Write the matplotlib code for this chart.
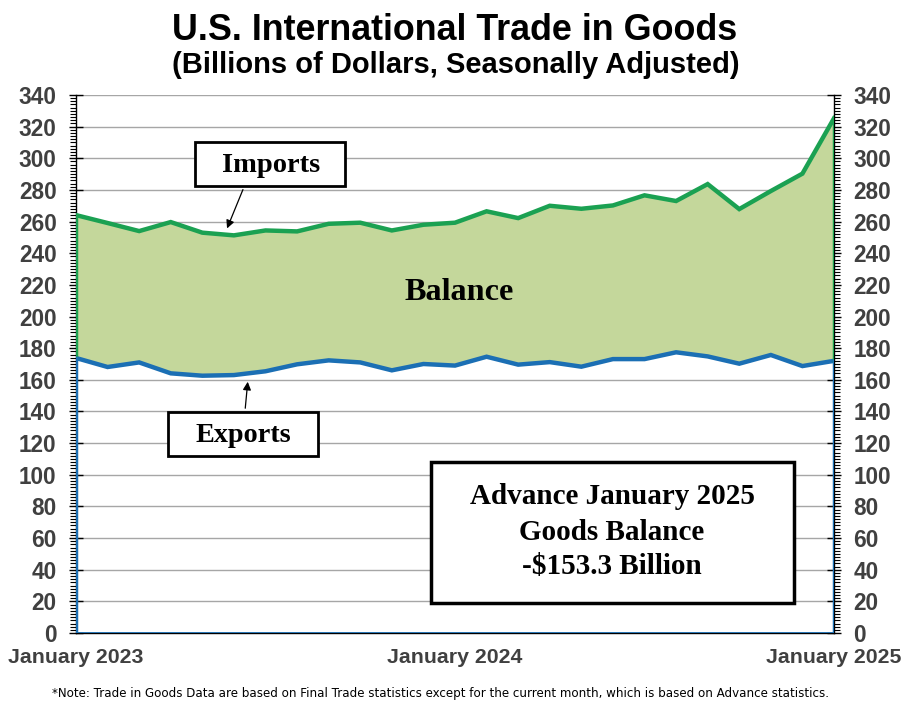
import matplotlib
matplotlib.use("Agg")
import matplotlib.pyplot as plt
from matplotlib.ticker import MultipleLocator
from matplotlib.patches import Rectangle
import numpy as np

months = list(range(25))
xtick_pos = [0, 12, 24]
xtick_labels = ["January 2023", "January 2024", "January 2025"]

imports = [264.1, 259.1, 254.0, 259.7, 253.0, 251.3, 254.4, 253.8, 258.6, 259.3,
           254.4, 258.0, 259.3, 266.5, 262.2, 270.0, 268.1, 270.2, 276.6, 273.0,
           283.7, 267.9, 279.3, 290.3, 325.3]
exports = [173.8, 168.1, 171.0, 164.1, 162.6, 163.0, 165.4, 169.8, 172.3, 171.0,
           166.0, 170.0, 169.0, 174.6, 169.6, 171.2, 168.3, 173.1, 173.1, 177.4,
           174.8, 170.2, 175.7, 168.7, 172.0]

W, H = 910, 709
fig = plt.figure(figsize=(W / 100, H / 100), dpi=100)
ax = fig.add_axes([76 / W, 1 - 633 / H, (834 - 76) / W, (633 - 95) / H])

green = "#1ba152"
fill = "#c4d79b"
blue = "#1b6fb4"
gray_txt = "#404040"

x = np.array(months)
imp = np.array(imports)
exp_ = np.array(exports)

ax.fill_between(x, exp_, imp, color=fill, lw=0, zorder=2)
ax.plot(x, imp, color=green, lw=3.2, zorder=4, solid_joinstyle="miter")
ax.plot(x, exp_, color=blue, lw=3.2, zorder=4, solid_joinstyle="miter")
# area edges
ax.plot([x[0], x[0]], [exp_[0], imp[0]], color=green, lw=2.5, zorder=4)
ax.plot([x[-1], x[-1]], [exp_[-1], imp[-1]], color=green, lw=2.5, zorder=4)
ax.plot([x[0], x[0]], [0, exp_[0]], color=blue, lw=2.5, zorder=4)
ax.plot([x[-1], x[-1]], [0, exp_[-1]], color=blue, lw=2.5, zorder=4)
ax.plot([x[0], x[-1]], [0, 0], color=blue, lw=2.0, zorder=4)

ax.set_xlim(0, 24)
ax.set_ylim(0, 340)
ax.yaxis.set_major_locator(MultipleLocator(20))
ax.yaxis.set_minor_locator(MultipleLocator(2))
ax.grid(axis="y", which="major", color="#a6a6a6", lw=1.0, zorder=1)
ax.set_axisbelow(True)

ax.set_xticks(xtick_pos)
ax.set_xticklabels(xtick_labels)
ax.tick_params(axis="x", length=0, pad=11, labelsize=15.3, labelcolor=gray_txt)
ax.tick_params(axis="y", which="major", direction="inout", length=10, width=1,
               labelsize=16.3, labelcolor=gray_txt, left=True, right=True,
               labelleft=True, labelright=True, pad=9)
ax.tick_params(axis="y", which="minor", direction="out", length=4, width=0.8,
               left=True, right=True)
for lab in ax.get_xticklabels() + ax.get_yticklabels():
    lab.set_fontweight("bold")
    lab.set_family("Liberation Sans")
for t in ax.yaxis.get_major_ticks():
    t.label2.set_fontweight("bold")
    t.label2.set_family("Liberation Sans")
    t.label2.set_color(gray_txt)
    t.label2.set_fontsize(16.3)

for s in ax.spines.values():
    s.set_color("black")
    s.set_linewidth(1.0)
ax.spines["top"].set_visible(False)

def px(xp, yp):
    return xp / W, 1 - yp / H

fig.text(*px(455, 30), "U.S. International Trade in Goods", ha="center", va="center",
         fontsize=25.8, fontweight="bold", family="Liberation Sans")
fig.text(*px(456, 65), "(Billions of Dollars, Seasonally Adjusted)", ha="center", va="center",
         fontsize=21, fontweight="bold", family="Liberation Sans")

serif = "Liberation Serif"

def rect(x0, y0, x1, y1, lw=2.0):
    r = Rectangle(px(x0, y1), (x1 - x0) / W, (y1 - y0) / H, transform=fig.transFigure,
                  fc="white", ec="black", lw=lw, zorder=10)
    fig.add_artist(r)

rect(195, 142, 345, 186)
fig.text(*px(271, 165), "Imports", ha="center", va="center", fontsize=20.5,
         fontweight="bold", family=serif, zorder=11)
rect(168, 412, 318, 456)
fig.text(*px(243, 435), "Exports", ha="center", va="center", fontsize=20.3,
         fontweight="bold", family=serif, zorder=11)

fig.text(*px(459, 293), "Balance", ha="center", va="center", fontsize=23.2,
         fontweight="bold", family=serif, zorder=11)

rect(431, 462, 794, 603, lw=2.5)
for yy, s in [(497, "Advance January 2025"), (533, "Goods Balance"), (566, "-$153.3 Billion")]:
    fig.text(*px(612, yy), s, ha="center", va="center", fontsize=21,
             fontweight="bold", family=serif, zorder=11)

# arrows
ax.annotate("", xy=px(226, 231), xytext=px(244, 187), xycoords="figure fraction",
            textcoords="figure fraction",
            arrowprops=dict(arrowstyle="-|>", color="black", lw=0.9, mutation_scale=12),
            zorder=12)
ax.annotate("", xy=px(248, 379), xytext=px(245, 411), xycoords="figure fraction",
            textcoords="figure fraction",
            arrowprops=dict(arrowstyle="-|>", color="black", lw=0.9, mutation_scale=12),
            zorder=12)

fig.text(*px(440, 694), "*Note: Trade in Goods Data are based on Final Trade statistics except for the current month, which is based on Advance statistics.",
         ha="center", va="center", fontsize=8.6, family=["Liberation Sans Narrow", "DejaVu Sans"])

fig.savefig("out.png", dpi=100)
